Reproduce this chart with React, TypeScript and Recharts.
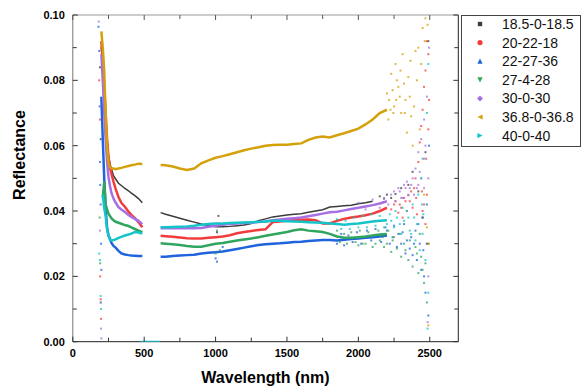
import { ScatterChart, Scatter, XAxis, YAxis, ReferenceLine, Legend, Label } from "recharts"

// wavelength grids (nm)
const LEFT_W = [200, 210, 220, 230, 240, 250, 260, 270, 285, 300, 320, 340, 365, 390, 410, 435, 460, 487]
const RIGHT_W = [615, 650, 700, 750, 800, 850, 900, 950, 1000, 1050, 1100, 1150, 1200, 1250, 1300, 1350, 1400, 1450, 1500, 1550, 1600, 1650, 1700, 1750, 1800, 1850, 1900, 1950, 2000, 2050, 2100, 2150, 2200]

// reflectance, UV-VIS part (LEFT_W)
const BLACK_L = [0.090, 0.084, 0.077, 0.069, 0.062, 0.057, 0.0545, 0.053, 0.0508, 0.0498, 0.0485, 0.0478, 0.0469, 0.0462, 0.0455, 0.0447, 0.0438, 0.0425]
const RED_L = [0.092, 0.086, 0.078, 0.070, 0.062, 0.0565, 0.0535, 0.0515, 0.049, 0.0468, 0.0443, 0.0425, 0.0413, 0.0398, 0.0388, 0.0378, 0.0366, 0.035]
const BLUE_L = [0.075, 0.062, 0.050, 0.041, 0.035, 0.0325, 0.0316, 0.0303, 0.0293, 0.0288, 0.0278, 0.027, 0.0267, 0.0265, 0.0264, 0.0263, 0.0262, 0.0262]
const GREEN_L = [null, 0.044, 0.049, 0.042, 0.0405, 0.0392, 0.0385, 0.0378, 0.0372, 0.0367, 0.0364, 0.0361, 0.0357, 0.0354, 0.035, 0.0345, 0.034, 0.0335]
const PURPLE_L = [0.088, 0.080, 0.070, 0.062, 0.055, 0.0505, 0.0478, 0.0456, 0.0438, 0.0426, 0.0412, 0.0405, 0.0397, 0.0388, 0.0382, 0.0376, 0.037, 0.036]
const GOLD_L = [0.095, 0.090, 0.083, 0.070, 0.060, 0.0545, 0.0535, 0.053, 0.053, 0.0528, 0.053, 0.0532, 0.0535, 0.0538, 0.054, 0.0542, 0.0545, 0.0544]
const CYAN_L = [null, 0.045, 0.041, 0.0385, 0.0345, 0.0325, 0.0312, 0.031, 0.0311, 0.0313, 0.0318, 0.0321, 0.0325, 0.0328, 0.0331, 0.0336, 0.0334, 0.0331]

// reflectance, NIR part (RIGHT_W)
const BLACK_R = [0.0395, 0.039, 0.0384, 0.0378, 0.0372, 0.0366, 0.036, 0.0356, 0.0352, 0.0352, 0.0353, 0.0355, 0.0357, 0.0362, 0.037, 0.0376, 0.0382, 0.0385, 0.0388, 0.039, 0.0392, 0.0396, 0.04, 0.0404, 0.0412, 0.0414, 0.0416, 0.0418, 0.0422, 0.0425, 0.043, null, null]
const RED_R = [0.0324, 0.0323, 0.0321, 0.0319, 0.0317, 0.0316, 0.0316, 0.0318, 0.032, 0.0322, 0.0326, 0.0332, 0.0336, 0.0339, 0.0342, 0.0344, 0.0366, 0.0368, 0.037, 0.0372, 0.0373, 0.0374, 0.0372, 0.0362, 0.0362, 0.037, 0.0376, 0.038, 0.0383, 0.0387, 0.0392, 0.04, 0.041]
const BLUE_R = [0.026, 0.026, 0.0262, 0.0264, 0.0265, 0.0266, 0.027, 0.0272, 0.0274, 0.0276, 0.028, 0.0284, 0.0288, 0.0292, 0.0296, 0.0298, 0.03, 0.0301, 0.0303, 0.0305, 0.0306, 0.0308, 0.031, 0.0311, 0.0311, 0.031, 0.0312, 0.0314, 0.0316, 0.0318, 0.032, 0.0322, 0.0325]
const GREEN_R = [0.0301, 0.03, 0.0298, 0.0296, 0.0293, 0.0291, 0.0291, 0.0295, 0.03, 0.0302, 0.0306, 0.031, 0.0313, 0.0316, 0.032, 0.0324, 0.0328, 0.0332, 0.0336, 0.0341, 0.0344, 0.034, 0.0338, 0.0336, 0.033, 0.0322, 0.0318, 0.0318, 0.032, 0.0322, 0.0325, 0.0328, 0.033]
const PURPLE_R = [0.0347, 0.0347, 0.0347, 0.0347, 0.0347, 0.0347, 0.0348, 0.0352, 0.0355, 0.0358, 0.036, 0.0362, 0.0363, 0.0364, 0.0366, 0.0368, 0.0372, 0.0374, 0.0376, 0.0378, 0.038, 0.0384, 0.0388, 0.0392, 0.0396, 0.0398, 0.0402, 0.0406, 0.041, 0.0414, 0.0418, 0.0423, 0.043]
const GOLD_R = [0.0541, 0.054, 0.0536, 0.053, 0.0526, 0.053, 0.0546, 0.0555, 0.0563, 0.0568, 0.0574, 0.058, 0.0586, 0.0591, 0.0595, 0.06, 0.0602, 0.0603, 0.0603, 0.0605, 0.0607, 0.0618, 0.0625, 0.0628, 0.0625, 0.0632, 0.0638, 0.0645, 0.0652, 0.0665, 0.068, 0.07, 0.071]
const CYAN_R = [0.035, 0.035, 0.0351, 0.0352, 0.0353, 0.0355, 0.0358, 0.036, 0.0362, 0.0362, 0.0363, 0.0364, 0.0365, 0.0366, 0.0367, 0.0368, 0.037, 0.037, 0.0369, 0.0368, 0.0367, 0.0366, 0.0365, 0.0364, 0.0362, 0.036, 0.0358, 0.036, 0.0362, 0.0365, 0.0368, 0.037, 0.0372]

// 40-0-40 reads zero across the detector gap
const CYAN_GAP_W = [475, 612]
const CYAN_GAP_R = [0, 0]

// scattered readings in the noisy regions [nm, reflectance]
const BLACK_N = [[190, 0.084], [195, 0.062], [1010, 0.0335], [1020, 0.0385], [2150, 0.0445], [2180, 0.0438], [2200, 0.045], [2230, 0.044], [2260, 0.0452], [2300, 0.047], [2350, 0.048], [2380, 0.052], [2420, 0.046], [2450, 0.038], [2470, 0.058], [2480, 0.03], [2490, 0.092]]
const RED_N = [[185, 0.08], [190, 0.068], [192, 0.02], [195, 0.013], [198, 0.007], [200, 0.09], [2230, 0.0405], [2250, 0.042], [2260, 0.043], [2280, 0.0395], [2290, 0.042], [2300, 0.041], [2310, 0.038], [2320, 0.044], [2330, 0.043], [2340, 0.04], [2350, 0.0448], [2360, 0.043], [2370, 0.046], [2380, 0.041], [2390, 0.047], [2400, 0.05], [2405, 0.044], [2410, 0.039], [2420, 0.055], [2430, 0.061], [2440, 0.066], [2445, 0.046], [2450, 0.071], [2450, 0.04], [2460, 0.078], [2460, 0.042], [2470, 0.083], [2470, 0.036], [2475, 0.056], [2480, 0.092], [2480, 0.045], [2490, 0.088], [2490, 0.065], [2495, 0.074]]
const BLUE_N = [[180, 0.0964], [185, 0.089], [188, 0.072], [190, 0.055], [192, 0.048], [195, 0.042], [198, 0.03], [200, 0.022], [1000, 0.0255], [1010, 0.0245], [1050, 0.029], [1850, 0.03], [1880, 0.033], [1900, 0.0295], [1930, 0.0325], [1960, 0.0305], [1990, 0.0335], [2020, 0.03], [2060, 0.034], [2090, 0.031], [2120, 0.0345], [2160, 0.0305], [2190, 0.035], [2200, 0.034], [2220, 0.03], [2240, 0.032], [2250, 0.0355], [2270, 0.029], [2280, 0.033], [2300, 0.03], [2310, 0.0335], [2320, 0.036], [2330, 0.027], [2340, 0.031], [2360, 0.0285], [2370, 0.032], [2380, 0.0265], [2390, 0.03], [2400, 0.034], [2410, 0.025], [2420, 0.036], [2430, 0.03], [2440, 0.022], [2450, 0.038], [2455, 0.028], [2460, 0.02], [2470, 0.015], [2480, 0.042], [2490, 0.008], [2495, 0.06]]
const GREEN_N = [[188, 0.038], [192, 0.024], [196, 0.012], [1000, 0.027], [1010, 0.034], [1030, 0.028], [1850, 0.034], [1870, 0.0305], [1900, 0.033], [1920, 0.03], [1950, 0.0335], [1980, 0.0305], [2000, 0.0295], [2010, 0.034], [2030, 0.03], [2050, 0.03], [2070, 0.0335], [2100, 0.029], [2120, 0.03], [2140, 0.034], [2150, 0.031], [2170, 0.032], [2180, 0.029], [2200, 0.03], [2210, 0.034], [2230, 0.0275], [2240, 0.031], [2250, 0.032], [2270, 0.0285], [2290, 0.033], [2300, 0.026], [2320, 0.03], [2330, 0.028], [2350, 0.025], [2360, 0.031], [2380, 0.023], [2400, 0.029], [2410, 0.027], [2420, 0.021], [2430, 0.033], [2440, 0.026], [2450, 0.022], [2460, 0.018], [2470, 0.024], [2480, 0.012], [2490, 0.03]]
const PURPLE_N = [[182, 0.098], [190, 0.034], [195, 0.012], [198, 0.004], [200, 0.001], [2000, 0.0425], [2050, 0.0405], [2100, 0.0435], [2150, 0.041], [2180, 0.044], [2210, 0.042], [2230, 0.045], [2250, 0.046], [2260, 0.043], [2280, 0.047], [2290, 0.046], [2300, 0.044], [2310, 0.044], [2320, 0.048], [2330, 0.047], [2340, 0.049], [2350, 0.045], [2360, 0.047], [2370, 0.048], [2380, 0.05], [2390, 0.045], [2400, 0.053], [2410, 0.047], [2420, 0.058], [2420, 0.048], [2430, 0.052], [2440, 0.062], [2440, 0.05], [2450, 0.056], [2460, 0.068], [2460, 0.047], [2470, 0.06], [2480, 0.075], [2490, 0.05], [2495, 0.09], [2490, 0.02], [2485, 0.006]]
const GOLD_N = [[2200, 0.076], [2210, 0.068], [2215, 0.074], [2225, 0.071], [2230, 0.082], [2240, 0.077], [2245, 0.07], [2250, 0.072], [2260, 0.085], [2265, 0.074], [2270, 0.08], [2280, 0.078], [2290, 0.075], [2295, 0.083], [2300, 0.07], [2310, 0.088], [2320, 0.079], [2325, 0.07], [2330, 0.074], [2340, 0.064], [2350, 0.081], [2360, 0.075], [2365, 0.086], [2370, 0.069], [2380, 0.06], [2390, 0.072], [2400, 0.089], [2410, 0.08], [2420, 0.09], [2430, 0.065], [2440, 0.085], [2450, 0.096], [2460, 0.045], [2465, 0.092], [2470, 0.099], [2480, 0.035], [2485, 0.097], [2490, 0.005], [2495, 0.03]]
const CYAN_N = [[185, 0.027], [190, 0.025], [195, 0.014], [198, 0.01], [1850, 0.0375], [1880, 0.0345], [1910, 0.037], [1940, 0.0345], [1970, 0.038], [2000, 0.035], [2030, 0.0385], [2060, 0.035], [2090, 0.039], [2120, 0.0355], [2150, 0.0385], [2180, 0.035], [2200, 0.036], [2220, 0.039], [2230, 0.037], [2250, 0.035], [2260, 0.04], [2270, 0.038], [2290, 0.036], [2300, 0.033], [2310, 0.041], [2320, 0.037], [2340, 0.04], [2350, 0.038], [2360, 0.034], [2370, 0.033], [2380, 0.042], [2390, 0.038], [2400, 0.031], [2410, 0.036], [2420, 0.045], [2430, 0.028], [2440, 0.05], [2445, 0.042], [2450, 0.033], [2455, 0.039], [2460, 0.056], [2470, 0.025], [2480, 0.07], [2490, 0.015], [2490, 0.085], [2485, 0.004]]

const X_TICKS = [0, 250, 500, 750, 1000, 1250, 1500, 1750, 2000, 2250, 2500]
const Y_TICKS = [0, 0.01, 0.02, 0.03, 0.04, 0.05, 0.06, 0.07, 0.08, 0.09, 0.1]

const PLOT_TOP = 15
const PLOT_RIGHT = 458.3
const FONT = "Liberation Sans, Arial, sans-serif"

const pts = (ws: number[], vs: (number | null)[]) =>
  ws.map((w, i) => ({ w, r: vs[i] })).filter((p) => p.r !== null)
const pairs = (arr: number[][]) => arr.map(([w, r]) => ({ w, r }))

const SERIES = [
  { name: "18.5-0-18.5", color: "#3c3c3c", marker: "square", left: BLACK_L, right: BLACK_R, noise: BLACK_N, width: 1.5 },
  { name: "20-22-18", color: "#f23c3c", marker: "circle", left: RED_L, right: RED_R, noise: RED_N, width: 2.5 },
  { name: "22-27-36", color: "#1f63dd", marker: "up", left: BLUE_L, right: BLUE_R, noise: BLUE_N, width: 2.5 },
  { name: "27-4-28", color: "#2fa55e", marker: "down", left: GREEN_L, right: GREEN_R, noise: GREEN_N, width: 2.5 },
  { name: "30-0-30", color: "#a86fe3", marker: "diamond", left: PURPLE_L, right: PURPLE_R, noise: PURPLE_N, width: 2.5 },
  { name: "36.8-0-36.8", color: "#d4a10b", marker: "left", left: GOLD_L, right: GOLD_R, noise: GOLD_N, width: 2.5 },
  { name: "40-0-40", color: "#13c4c9", marker: "right", left: CYAN_L, right: CYAN_R, noise: CYAN_N, width: 2.5 },
]

function XTick(props: any) {
  const { x, y, payload } = props
  const v = payload.value
  const major = v % 500 === 0
  const len = major ? 5 : 4
  return (
    <g>
      <line x1={x} y1={y} x2={x} y2={y - len} stroke="#333" />
      <line x1={x} y1={PLOT_TOP} x2={x} y2={PLOT_TOP + len} stroke="#555" />
      {major && (
        <text x={x} y={y + 15} textAnchor="middle" fontSize={11} fontWeight="bold" fill="#000" fontFamily={FONT}>
          {v}
        </text>
      )}
    </g>
  )
}

function YTick(props: any) {
  const { x, y, payload } = props
  const v = payload.value
  const major = Math.round(v * 100) % 2 === 0
  const len = major ? 5 : 4
  return (
    <g>
      <line x1={x} y1={y} x2={x + len} y2={y} stroke="#333" />
      <line x1={PLOT_RIGHT} y1={y} x2={PLOT_RIGHT - len} y2={y} stroke="#333" />
      {major && (
        <text x={x - 8} y={y + 4} textAnchor="end" fontSize={11} fontWeight="bold" fill="#000" fontFamily={FONT}>
          {v.toFixed(2)}
        </text>
      )}
    </g>
  )
}

function Marker({ kind, color, cx, cy }: { kind: string; color: string; cx: number; cy: number }) {
  const s = 2.6
  if (kind === "square") return <rect x={cx - 2.2} y={cy - 2.2} width={4.4} height={4.4} fill={color} />
  if (kind === "circle") return <circle cx={cx} cy={cy} r={2.6} fill={color} />
  if (kind === "diamond")
    return <polygon points={`${cx},${cy - 3} ${cx + 3},${cy} ${cx},${cy + 3} ${cx - 3},${cy}`} fill={color} />
  const tri: Record<string, string> = {
    up: `${cx},${cy - s} ${cx + s},${cy + s} ${cx - s},${cy + s}`,
    down: `${cx - s},${cy - s} ${cx + s},${cy - s} ${cx},${cy + s}`,
    left: `${cx - s},${cy} ${cx + s},${cy - s} ${cx + s},${cy + s}`,
    right: `${cx + s},${cy} ${cx - s},${cy - s} ${cx - s},${cy + s}`,
  }
  return <polygon points={tri[kind]} fill={color} />
}

function LegendBox() {
  return (
    <svg width={120} height={132} style={{ display: "block" }}>
      <rect x={0.5} y={0.5} width={119} height={131} fill="#fff" stroke="#444" />
      {SERIES.map((s, i) => (
        <g key={s.name}>
          <Marker kind={s.marker} color={s.color} cx={19} cy={9 + 18.6 * i} />
          <text x={41} y={14 + 18.6 * i} fontSize={14} fill="#111" fontFamily={FONT}>
            {s.name}
          </text>
        </g>
      ))}
    </svg>
  )
}

const noLine = () => <g />

export default function App() {
  return (
    <div style={{ position: "fixed", left: 0, top: 0, width: 581, height: 388, background: "#fff" }}>
      <ScatterChart width={581} height={388} margin={{ top: 15, right: 122.7, bottom: 16.3, left: 0 }}>
        <XAxis
          type="number"
          dataKey="w"
          domain={[0, 2700]}
          allowDataOverflow
          ticks={X_TICKS}
          interval={0}
          height={30}
          tickSize={0}
          tickMargin={0}
          tickLine={false}
          axisLine={{ stroke: "#222" }}
          tick={(p: any) => <XTick {...p} />}
        >
          <Label
            content={() => (
              <text x={265.5} y={383} textAnchor="middle" fontSize={16} fontWeight="bold" fill="#000" fontFamily={FONT}>
                Wavelength (nm)
              </text>
            )}
          />
        </XAxis>
        <YAxis
          type="number"
          dataKey="r"
          domain={[0, 0.1]}
          allowDataOverflow
          ticks={Y_TICKS}
          interval={0}
          width={72.8}
          tickSize={0}
          tickMargin={0}
          tickLine={false}
          axisLine={{ stroke: "#777" }}
          tick={(p: any) => <YTick {...p} />}
        >
          <Label
            content={() => (
              <text
                x={25}
                y={155}
                transform="rotate(-90 25 155)"
                textAnchor="middle"
                fontSize={16}
                fontWeight="bold"
                fill="#000"
                fontFamily={FONT}
              >
                Reflectance
              </text>
            )}
          />
        </YAxis>
        <ReferenceLine y={0.1} stroke="#999" />
        <ReferenceLine x={2700} stroke="#222" />
        {SERIES.map((s) => [
          <Scatter
            key={s.name + "-l"}
            name={s.name}
            data={pts(LEFT_W, s.left)}
            fill={s.color}
            line={{ strokeWidth: s.width }}
            shape={noLine}
            legendType="none"
            isAnimationActive={false}
          />,
          <Scatter
            key={s.name + "-r"}
            data={pts(RIGHT_W, s.right)}
            fill={s.color}
            line={{ strokeWidth: s.width }}
            shape={noLine}
            legendType="none"
            isAnimationActive={false}
          />,
          <Scatter
            key={s.name + "-n"}
            data={pairs(s.noise)}
            fill={s.color}
            shape={(p: any) => <rect x={p.cx - 1} y={p.cy - 1} width={2} height={2} fill={s.color} opacity={0.75} />}
            legendType="none"
            isAnimationActive={false}
          />,
        ])}
        <Scatter
          data={pts(CYAN_GAP_W, CYAN_GAP_R)}
          fill="#13c4c9"
          line={{ strokeWidth: 2 }}
          shape={noLine}
          legendType="none"
          isAnimationActive={false}
        />
        <Legend
          layout="vertical"
          align="center"
          verticalAlign="middle"
          wrapperStyle={{ left: 461, top: 15, width: 120, height: 132 }}
          content={() => <LegendBox />}
        />
      </ScatterChart>
    </div>
  )
}
